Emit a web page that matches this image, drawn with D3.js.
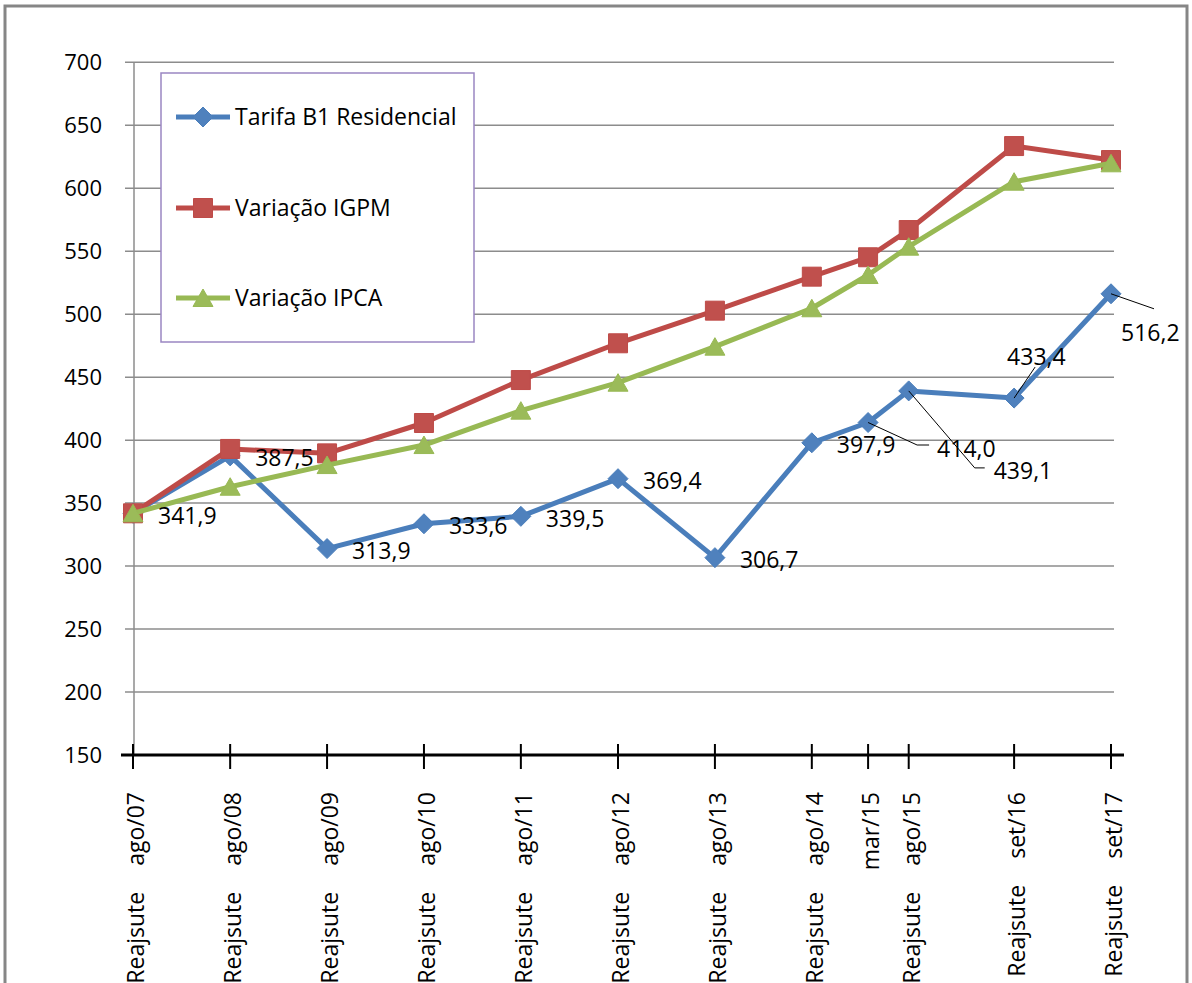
<!DOCTYPE html>
<html>
<head>
<meta charset="utf-8">
<script src="https://cdn.jsdelivr.net/npm/d3@7"></script>
<style>
  body { margin: 0; background: #fff; }
  svg { display: block; }
  text { font-family: "Open Sans", "DejaVu Sans", sans-serif; fill: #000; }
</style>
</head>
<body>
<svg id="chart" width="1192" height="983"></svg>
<script>
// Adjustment dates (year-month) and their axis labels
const adjustDates = ["2007-08", "2008-08", "2009-08", "2010-08", "2011-08", "2012-08",
                     "2013-08", "2014-08", "2015-03", "2015-08", "2016-09", "2017-09"];
const periodLabels = ["ago/07", "ago/08", "ago/09", "ago/10", "ago/11", "ago/12",
                      "ago/13", "ago/14", "mar/15", "ago/15", "set/16", "set/17"];
const eventLabels = ["Reajsute", "Reajsute", "Reajsute", "Reajsute", "Reajsute", "Reajsute",
                     "Reajsute", "Reajsute", "", "Reajsute", "Reajsute", "Reajsute"];

// Series values
const tarifaB1 = [341.9, 387.5, 313.9, 333.6, 339.5, 369.4, 306.7, 397.9, 414.0, 439.1, 433.4, 516.2];
const igpm     = [341.9, 393.0, 389.5, 413.6, 447.7, 476.9, 502.8, 529.8, 545.2, 566.8, 633.5, 622.4];
const ipca     = [341.9, 363.0, 380.2, 396.1, 423.4, 445.6, 474.2, 504.7, 531.1, 553.6, 605.2, 619.8];

const seriesNames = ["Tarifa B1 Residencial", "Variação IGPM", "Variação IPCA"];
const yTicks = [150, 200, 250, 300, 350, 400, 450, 500, 550, 600, 650, 700];

const svg = d3.select("#chart");
const parse = d3.timeParse("%Y-%m");
const dates = adjustDates.map(parse);

const x = d3.scaleTime().domain(d3.extent(dates)).range([133, 1111]);
const y = d3.scaleLinear().domain([150, 700]).range([755, 62.3]);

const styles = [
  { line: "#4a7ebb", fill: "#4f81bd", shape: "diamond" },
  { line: "#be4b48", fill: "#c0504d", shape: "square" },
  { line: "#98b954", fill: "#9bbb59", shape: "triangle" }
];

function markerPath(shape) {
  if (shape === "diamond") return "M0,-10L10,0L0,10L-10,0Z";
  if (shape === "square") return "M-9.5,-9.5H9.5V9.5H-9.5Z";
  return "M0,-9L10,8.5H-10Z";
}

// chart frame
svg.append("rect")
  .attr("x", 5).attr("y", 6).attr("width", 1182).attr("height", 990)
  .attr("fill", "none").attr("stroke", "#868686").attr("stroke-width", 3);

// horizontal gridlines
const grid = svg.append("g");
grid.selectAll("line").data(yTicks.filter(t => t > 150)).join("line")
  .attr("x1", 125).attr("x2", 1114)
  .attr("y1", d => y(d)).attr("y2", d => y(d))
  .attr("stroke", "#8c8c8c").attr("stroke-width", 1.5);

// value axis
svg.append("line")
  .attr("x1", 134).attr("x2", 134).attr("y1", y(700)).attr("y2", y(150))
  .attr("stroke", "#8c8c8c").attr("stroke-width", 1.5);
svg.append("g").selectAll("text").data(yTicks).join("text")
  .attr("x", 102).attr("y", d => y(d)).attr("dy", "0.36em")
  .attr("text-anchor", "end").attr("font-size", 22)
  .text(d => d);

// category (date) axis
svg.append("line")
  .attr("x1", 121).attr("x2", 1124).attr("y1", y(150)).attr("y2", y(150))
  .attr("stroke", "#000").attr("stroke-width", 3);
svg.append("g").selectAll("line").data(dates).join("line")
  .attr("x1", d => x(d)).attr("x2", d => x(d))
  .attr("y1", y(150) - 11).attr("y2", y(150) + 14)
  .attr("stroke", "#000").attr("stroke-width", 2);

const xl = svg.append("g").selectAll("text").data(dates).join("text")
  .attr("transform", d => `translate(${x(d) + 3},792) rotate(-90)`)
  .attr("text-anchor", "end").attr("dy", "0.36em").attr("font-size", 23);
xl.append("tspan").text((d, i) => eventLabels[i]);
xl.append("tspan").attr("dx", (d, i) => eventLabels[i] ? 26 : 0).text((d, i) => periodLabels[i]);

// series
const allSeries = [tarifaB1, igpm, ipca];
const line = d3.line().x((d, i) => x(dates[i])).y(d => y(d));

allSeries.forEach((vals, s) => {
  const g = svg.append("g");
  g.append("path").attr("d", line(vals))
    .attr("fill", "none").attr("stroke", styles[s].line)
    .attr("stroke-width", 5).attr("stroke-linejoin", "round");
  g.selectAll("path.m").data(vals).join("path").attr("class", "m")
    .attr("d", markerPath(styles[s].shape))
    .attr("transform", (d, i) => `translate(${x(dates[i])},${y(d)})`)
    .attr("fill", styles[s].fill).attr("stroke", styles[s].line).attr("stroke-width", 1);
});

// data labels for the tariff series
const fmt = v => d3.format(".1f")(v).replace(".", ",");
// labels moved away from their default place, with leader lines (offsets in px)
const movedLabels = {
  8:  { dx: 69, dy: 26, leader: [[49, 22.5], [61, 22.5]] },
  9:  { dx: 85, dy: 80, leader: [[66, 77], [76, 77]] },
  10: { dx: -7, dy: -41, leader: [[21, -31]] },
  11: { dx: 10, dy: 39, leader: [[43, 15]] }
};
const lbl = svg.append("g");
tarifaB1.forEach((v, i) => {
  const px = x(dates[i]), py = y(v);
  const m = movedLabels[i];
  if (m) {
    const pts = [[px, py]].concat(m.leader.map(p => [px + p[0], py + p[1]]));
    lbl.append("path").attr("d", d3.line()(pts))
      .attr("fill", "none").attr("stroke", "#000").attr("stroke-width", 1);
  }
  lbl.append("text")
    .attr("x", px + (m ? m.dx : 25)).attr("y", py + (m ? m.dy : 2))
    .attr("dy", "0.36em").attr("font-size", 23)
    .text(fmt(v));
});

// legend
const leg = svg.append("g");
leg.append("rect").attr("x", 161).attr("y", 73).attr("width", 313).attr("height", 269)
  .attr("fill", "#fff").attr("stroke", "#9a86c2").attr("stroke-width", 1.5);
const legY = [117, 208, 298];
seriesNames.forEach((name, s) => {
  leg.append("line").attr("x1", 176).attr("x2", 230).attr("y1", legY[s]).attr("y2", legY[s])
    .attr("stroke", styles[s].line).attr("stroke-width", 5);
  leg.append("path").attr("d", markerPath(styles[s].shape))
    .attr("transform", `translate(203,${legY[s]})`)
    .attr("fill", styles[s].fill).attr("stroke", styles[s].line).attr("stroke-width", 1);
  leg.append("text").attr("x", 235).attr("y", legY[s]).attr("dy", "0.36em")
    .attr("font-size", 23).text(name);
});
</script>
</body>
</html>
